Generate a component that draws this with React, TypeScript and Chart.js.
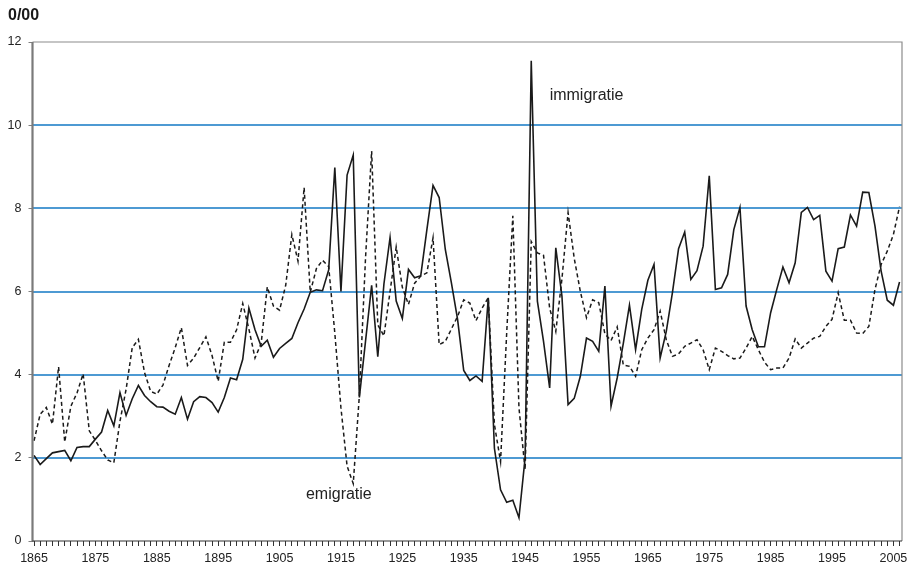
import React, { useEffect, useRef } from 'react';
import { Chart, registerables } from 'chart.js';

Chart.register(...registerables);

const startYear = 1865;

// per mille (0/00), solid line
const immigratie = [
  2.06, 1.84, 1.98, 2.12, 2.15, 2.18, 1.93, 2.25, 2.27, 2.27,
  2.45, 2.62, 3.14, 2.77, 3.57, 3.02, 3.42, 3.74, 3.5, 3.35,
  3.23, 3.22, 3.12, 3.05, 3.45, 2.93, 3.35, 3.47, 3.45, 3.33,
  3.1, 3.45, 3.92, 3.88, 4.37, 5.6, 5.08, 4.68, 4.83, 4.42,
  4.63, 4.75, 4.87, 5.25, 5.58, 5.98, 6.04, 6.02, 6.52, 8.98,
  6.0, 8.8, 9.28, 3.45, 4.8, 6.15, 4.43, 6.18, 7.3, 5.77,
  5.35, 6.53, 6.33, 6.38, 7.49, 8.55, 8.26, 7.01, 6.2, 5.33,
  4.1, 3.86, 3.97, 3.84, 5.85, 2.23, 1.23, 0.93, 0.98, 0.56,
  2.0, 11.55, 5.77, 4.8, 3.68, 7.05, 5.89, 3.28, 3.43, 3.96,
  4.88, 4.8, 4.56, 6.13, 3.24, 3.92, 4.75, 5.67, 4.6, 5.57,
  6.27, 6.65, 4.4, 5.04, 5.97, 7.03, 7.43, 6.29, 6.5, 7.09,
  8.78, 6.05, 6.09, 6.41, 7.49, 8.02, 5.65, 5.08, 4.67, 4.67,
  5.49, 6.05, 6.59, 6.21, 6.69, 7.9, 8.02, 7.73, 7.83, 6.49,
  6.25, 7.03, 7.07, 7.84, 7.57, 8.39, 8.38, 7.57, 6.49, 5.79,
  5.67, 6.23,
];

// per mille (0/00), dashed line
const emigratie = [
  2.41, 3.05, 3.21, 2.81, 4.19, 2.38, 3.24, 3.56, 4.02, 2.65,
  2.42, 2.17, 1.95, 1.88, 2.88, 3.65, 4.65, 4.85, 4.05, 3.6,
  3.53, 3.75, 4.22, 4.65, 5.13, 4.22, 4.4, 4.65, 4.91, 4.46,
  3.84, 4.78, 4.78, 5.08, 5.71, 5.1, 4.4, 4.75, 6.11, 5.65,
  5.55, 6.15, 7.37, 6.73, 8.5, 5.98, 6.55, 6.75, 6.6, 5.0,
  3.2, 1.8, 1.38, 3.5, 6.8, 9.38, 5.2, 4.93, 6.0, 7.07,
  6.1, 5.69, 6.2, 6.37, 6.45, 7.29, 4.72, 4.8, 5.1, 5.4,
  5.8, 5.72, 5.3, 5.6, 5.85, 2.8, 1.91, 5.0, 7.82, 3.2,
  1.71, 7.2, 6.93, 6.87, 5.6, 5.04, 6.3, 7.9, 6.8, 6.0,
  5.37, 5.8, 5.73, 4.98, 4.82, 5.15, 4.23, 4.2, 3.96, 4.6,
  4.88, 5.08, 5.53, 4.84, 4.44, 4.5, 4.68, 4.76, 4.84, 4.6,
  4.12, 4.64, 4.56, 4.46, 4.38, 4.4, 4.64, 4.92, 4.6, 4.3,
  4.12, 4.16, 4.16, 4.4, 4.86, 4.64, 4.76, 4.88, 4.92, 5.16,
  5.33, 5.97, 5.31, 5.31, 5.0, 4.99, 5.16, 6.05, 6.65, 6.97,
  7.37, 8.04,
];

const years = immigratie.map((_, i) => startYear + i);
const labelYears = [1865, 1875, 1885, 1895, 1905, 1915, 1925, 1935, 1945, 1955, 1965, 1975, 1985, 1995, 2005];
const yTicks = [0, 2, 4, 6, 8, 10, 12];
const gridValues = [2, 4, 6, 8, 10];
const unitLabel = '0/00';
const seriesNames = ['immigratie', 'emigratie'];

const FONT = "'Liberation Sans', Arial, Helvetica, sans-serif";

export default function App() {
  const canvasRef = useRef<HTMLCanvasElement | null>(null);

  useEffect(() => {
    const canvas = canvasRef.current;
    if (!canvas) return;

    const gridPlugin = {
      id: 'blueGrid',
      beforeDatasetsDraw(chart: any) {
        const { ctx, chartArea: a, scales } = chart;
        ctx.save();
        ctx.strokeStyle = '#1378c4';
        ctx.lineWidth = 1.4;
        for (const v of gridValues) {
          const y = Math.round(scales.y.getPixelForValue(v));
          ctx.beginPath();
          ctx.moveTo(a.left, y);
          ctx.lineTo(a.right, y);
          ctx.stroke();
        }
        ctx.restore();
      },
    };

    const overlay = {
      id: 'overlay',
      afterDraw(chart: any) {
        const { ctx, chartArea: a, scales } = chart;
        ctx.save();
        ctx.strokeStyle = '#8c8c8c';
        ctx.lineWidth = 1.2;
        ctx.beginPath();
        ctx.moveTo(a.left, a.top);
        ctx.lineTo(a.right, a.top);
        ctx.lineTo(a.right, a.bottom);
        ctx.stroke();
        ctx.strokeStyle = '#7a7a7a';
        ctx.lineWidth = 2.2;
        ctx.beginPath();
        ctx.moveTo(a.left, a.top);
        ctx.lineTo(a.left, a.bottom + 1);
        ctx.stroke();
        ctx.strokeStyle = '#333';
        ctx.lineWidth = 1.2;
        ctx.beginPath();
        ctx.moveTo(a.left, a.bottom);
        ctx.lineTo(a.right, a.bottom);
        ctx.stroke();

        // unit label
        ctx.fillStyle = '#1a1a1a';
        ctx.font = `bold 16px ${FONT}`;
        ctx.textBaseline = 'middle';
        ctx.textAlign = 'left';
        ctx.fillText(unitLabel, 8, 16);

        // series annotations
        ctx.font = `16px ${FONT}`;
        ctx.fillStyle = '#222';
        const xs = scales.x;
        const ys = scales.y;
        ctx.fillText(seriesNames[0], xs.getPixelForValue(1949.0), ys.getPixelForValue(10.7));
        ctx.fillText(seriesNames[1], xs.getPixelForValue(1909.3), ys.getPixelForValue(1.12));
        ctx.restore();
      },
    };

    const chart = new Chart(canvas, {
      type: 'line',
      data: {
        datasets: [
          {
            label: seriesNames[0],
            data: years.map((y, i) => ({ x: y, y: immigratie[i] })),
            borderColor: '#1a1a1a',
            borderWidth: 1.6,
            pointRadius: 0,
            tension: 0,
            fill: false,
          },
          {
            label: seriesNames[1],
            data: years.map((y, i) => ({ x: y, y: emigratie[i] })),
            borderColor: '#1a1a1a',
            borderWidth: 1.5,
            borderDash: [4, 3],
            pointRadius: 0,
            tension: 0,
            fill: false,
          },
        ],
      },
      options: {
        responsive: false,
        animation: false,
        events: [],
        layout: { padding: { left: 0, top: 42, right: 8, bottom: 0 } },
        plugins: {
          legend: { display: false },
          tooltip: { enabled: false },
          title: { display: false },
        },
        scales: {
          x: {
            type: 'linear',
            min: 1864.75,
            max: 2006.4,
            afterBuildTicks: (s: any) => {
              s.ticks = years.map((v) => ({ value: v }));
            },
            afterFit: (s: any) => {
              s.height = 28;
            },
            ticks: {
              autoSkip: false,
              maxRotation: 0,
              minRotation: 0,
              padding: 5,
              color: '#222',
              font: { family: FONT, size: 12.5 },
              callback: (v: any) => (labelYears.includes(Number(v)) ? String(v) : ''),
            },
            grid: {
              drawOnChartArea: false,
              drawTicks: true,
              tickLength: 5,
              color: '#333',
              tickColor: '#333',
            },
            border: { display: false },
          },
          y: {
            min: 0,
            max: 12,
            afterBuildTicks: (s: any) => {
              s.ticks = yTicks.map((v) => ({ value: v }));
            },
            afterFit: (s: any) => {
              s.width = 32.5;
            },
            ticks: {
              padding: 7,
              color: '#222',
              font: { family: FONT, size: 12.5 },
            },
            grid: {
              drawOnChartArea: false,
              drawTicks: true,
              color: '#808080',
              tickColor: '#808080',
              tickLength: 4,
              lineWidth: 1,
            },
            border: { display: false },
          },
        },
      },
      plugins: [gridPlugin, overlay],
    } as any);

    return () => {
      chart.destroy();
    };
  }, []);

  return (
    <div style={{ position: 'fixed', left: 0, top: 0, width: 910, height: 569, background: '#fff' }}>
      <canvas ref={canvasRef} width={910} height={569} style={{ display: 'block' }} />
    </div>
  );
}
